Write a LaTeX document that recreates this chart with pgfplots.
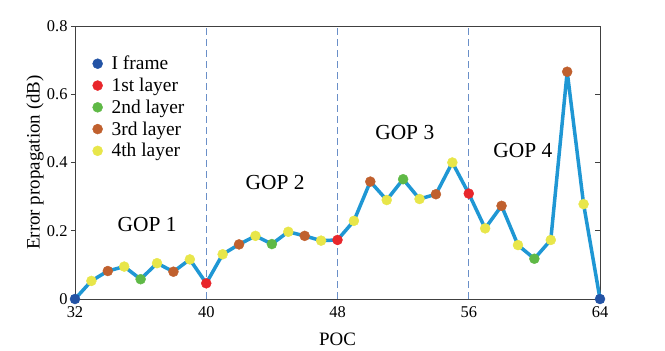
\documentclass[border=0pt]{standalone}
\usepackage{fontspec}
\setmainfont{Liberation Serif}
\usepackage{pgfplots}
\pgfplotsset{compat=1.18}

\definecolor{lineblue}{HTML}{1F97D4}
\definecolor{iframe}{HTML}{2353A5}
\definecolor{layerone}{HTML}{E8262B}
\definecolor{layertwo}{HTML}{5FB946}
\definecolor{layerthree}{HTML}{C0602E}
\definecolor{layerfour}{HTML}{E8E64A}
\definecolor{gopline}{HTML}{6A8FC8}

\begin{document}
\begin{tikzpicture}
\path[use as bounding box] (-75bp,-52bp) rectangle (590bp,299bp);
\begin{axis}[
  scale only axis,
  width=525bp, height=273bp,
  xmin=32, xmax=64, ymin=0, ymax=0.8,
  xtick={32,40,48,56,64},
  ytick={0,0.2,0.4,0.6,0.8},
  ytick pos=left,
  tick align=outside,
  major tick length=4bp,
  xtick style={draw=none},
  axis line style={black!75, line width=0.8bp},
  tick style={black!75, line width=0.8bp},
  clip=false,
  /pgf/number format/assume math mode=true,
  tick label style={font=\fontsize{16.5}{18}\selectfont},
  label style={font=\fontsize{19}{21}\selectfont},
  xlabel={POC},
  ylabel={Error propagation (dB)},
  xlabel style={at={(axis description cs:0.5,-0.147)}, anchor=center},
  ylabel style={at={(axis description cs:-0.076,0.5)}, anchor=center},
  legend cell align=left,
  legend image code/.code={
    \path[draw=none] (0bp,0bp) -- (22bp,0bp);
    \path[#1, draw=none] plot[only marks] coordinates {(10bp,0bp)};},
  legend style={draw=none, fill=none, at={(axis description cs:0.018,0.905)},
    anchor=north west, font=\fontsize{19.5}{21.5}\selectfont, row sep=2.8bp},
]
% error propagation curve
\addplot[lineblue, line width=3.5bp, line join=round, forget plot] coordinates {
  (32,0) (33,0.053) (34,0.082) (35,0.095) (36,0.058) (37,0.105)
  (38,0.080) (39,0.116) (40,0.046) (41,0.131) (42,0.160) (43,0.185)
  (44,0.161) (45,0.197) (46,0.185) (47,0.171) (48,0.173) (49,0.229)
  (50,0.344) (51,0.290) (52,0.351) (53,0.293) (54,0.307) (55,0.400)
  (56,0.309) (57,0.207) (58,0.273) (59,0.158) (60,0.118) (61,0.173)
  (62,0.666) (63,0.278) (64,0)
};
% I frames
\addplot[only marks, mark=*, mark size=5bp, mark options={draw=iframe, fill=iframe}]
  coordinates {(32,0) (64,0)};
\addlegendentry{I frame}
% 1st layer
\addplot[only marks, mark=*, mark size=5bp, mark options={draw=layerone, fill=layerone}]
  coordinates {(40,0.046) (48,0.173) (56,0.309)};
\addlegendentry{1st layer}
% 2nd layer
\addplot[only marks, mark=*, mark size=5bp, mark options={draw=layertwo, fill=layertwo}]
  coordinates {(36,0.058) (44,0.161) (52,0.351) (60,0.118)};
\addlegendentry{2nd layer}
% 3rd layer
\addplot[only marks, mark=*, mark size=5bp, mark options={draw=layerthree, fill=layerthree}]
  coordinates {(34,0.082) (38,0.080) (42,0.160) (46,0.185)
               (50,0.344) (54,0.307) (58,0.273) (62,0.666)};
\addlegendentry{3rd layer}
% 4th layer
\addplot[only marks, mark=*, mark size=5bp, mark options={draw=layerfour, fill=layerfour}]
  coordinates {(33,0.053) (35,0.095) (37,0.105) (39,0.116) (41,0.131)
               (43,0.185) (45,0.197) (47,0.171) (49,0.229) (51,0.290)
               (53,0.293) (55,0.400) (57,0.207) (59,0.158) (61,0.173) (63,0.278)};
\addlegendentry{4th layer}

% GOP boundaries
\foreach \x in {40,48,56}{
  \edef\tmp{\noexpand\draw[gopline, line width=0.8bp, dash pattern=on 7bp off 4bp]
    (axis cs:\x,0) -- (axis cs:\x,0.8);}
  \tmp
}
% inward ticks on the right side
\foreach \y in {0.2,0.4,0.6}{
  \edef\tmp{\noexpand\draw[black!75, line width=0.8bp]
    (axis cs:64,\y) -- ([xshift=-5bp]axis cs:64,\y);}
  \tmp
}
\node[font=\fontsize{21.5}{23}\selectfont] at (axis cs:36.4,0.218) {GOP 1};
\node[font=\fontsize{21.5}{23}\selectfont] at (axis cs:44.2,0.340) {GOP 2};
\node[font=\fontsize{21.5}{23}\selectfont] at (axis cs:52.1,0.489) {GOP 3};
\node[font=\fontsize{21.5}{23}\selectfont] at (axis cs:59.3,0.434) {GOP 4};
\end{axis}
\end{tikzpicture}
\end{document}
